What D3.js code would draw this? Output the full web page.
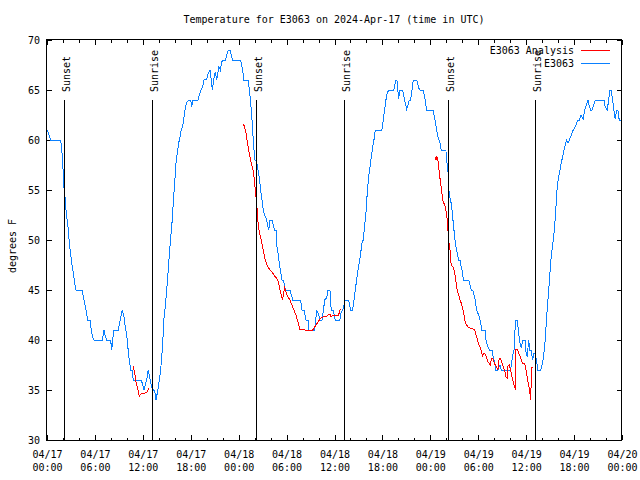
<!DOCTYPE html>
<html>
<head>
<meta charset="utf-8">
<script src="https://cdn.jsdelivr.net/npm/d3@7"></script>
<style>
  body { margin: 0; background: #fff; }
  svg { display: block; font-family: "DejaVu Sans Mono", monospace; font-size: 10px; }
  svg * { shape-rendering: crispEdges; }
</style>
</head>
<body>
<svg id="chart" width="640" height="480"></svg>
<script>
// Chart data (hours since 2024-04-17 00:00 UTC, degrees F)
const startDate = Date.UTC(2024, 3, 17);
const endDate = Date.UTC(2024, 3, 20);
const yTicks = [30, 35, 40, 45, 50, 55, 60, 65, 70];

const sunEvents = [
  ["Sunset", 2.18], ["Sunrise", 13.18], ["Sunset", 26.2],
  ["Sunrise", 37.15], ["Sunset", 50.23], ["Sunrise", 61.13]
];

// E3063 observations
const obsSeries = [
  [0.04,61],[0.29,60.4],[0.46,60],[1.72,60],[1.88,58.7],[2.0,57.3],[2.04,55.8],[2.22,54.7],
  [2.38,53],[2.67,51],[2.79,49.7],[2.97,48.5],[3.13,47.5],[3.29,46.7],[3.47,45.7],[3.63,45],
  [4.42,45],[4.54,44.3],[4.72,43.7],[4.88,43],[5.1,42],[5.38,42],[5.55,41],[5.72,40.3],
  [5.88,40],[6.92,40],[7.14,41],[7.3,40.4],[7.47,40],[7.93,40],[8.05,39.5],[8.1,39],
  [8.23,40],[8.35,41],[8.93,41],[9.05,41.5],[9.23,42.3],[9.43,43],[9.64,42.3],[9.8,41.3],
  [9.98,40.5],[10.1,39.5],[10.23,38.5],[10.35,37.7],[10.48,37],[10.68,37],[10.8,36],
  [11.81,36],[11.98,35.5],[12.14,35],[12.31,35.5],[12.48,36],[12.68,37],[12.81,36.5],
  [12.93,36],[13.11,35.3],[13.31,35],[13.48,35],[13.65,34],[13.81,34.7],[13.98,35.5],
  [14.15,36.5],[14.31,37.7],[14.49,39.7],[14.65,42.2],[14.81,43.3],[14.99,45],[15.15,46.7],
  [15.31,48.5],[15.49,50.3],[15.65,51.7],[15.81,53.7],[15.99,55.7],[16.15,57.7],[16.31,58.7],
  [16.49,59.7],[16.65,60.3],[16.81,61],[16.99,61.3],[17.15,62.3],[17.31,63.2],[17.53,63.8],
  [17.74,64],[17.99,64],[18.12,63.3],[18.24,64],[18.91,64],[19.07,64.5],[19.28,65],
  [19.49,65.3],[19.69,66.1],[19.99,66],[20.19,66.7],[20.41,67],[20.57,66],[20.7,65],
  [20.87,66],[21.07,66.8],[21.25,66],[21.53,67.3],[21.7,67],[21.87,67.8],[22.04,68],
  [22.37,68],[22.57,68.7],[22.75,69],[22.91,69],[23.07,68.5],[23.25,68],[24.16,68],
  [24.33,67.7],[24.5,67],[24.66,66],[25.2,66],[25.33,65],[25.5,63.8],[25.67,62],[25.83,60],
  [26.01,58],[26.26,57.8],[26.42,57],[26.58,56.3],[26.75,55],[26.92,54],[27.08,53],
  [27.26,52.5],[27.51,52],[27.76,51],[27.92,52],[28.17,52],[28.33,51.5],[28.51,51],
  [28.76,51],[28.77,49.5],[28.92,48.7],[29.08,47.7],[29.26,46.8],[29.42,46],[29.58,46],
  [29.76,45.5],[29.84,45],[30.42,45],[30.67,44.3],[30.76,44],[31.76,44],[31.93,43],
  [32.18,43],[32.43,42],[32.68,42],[32.76,41],[33.52,41],[33.68,42.3],[33.77,43],
  [34.02,42.5],[34.18,42],[34.43,42],[34.59,42.8],[34.77,44],[35.02,44.2],[35.18,45],
  [35.43,45],[35.59,43],[35.84,43],[36.09,42],[36.68,42],[36.81,42.7],[37.02,43],
  [37.35,44],[37.77,44],[38.02,43],[38.27,43],[38.44,44],[38.6,45],[38.77,46],[38.94,47],
  [39.1,47.7],[39.28,48.7],[39.44,49.7],[39.6,50],[39.72,51],[39.94,52.7],[40.1,54.7],
  [40.28,56.3],[40.44,57.3],[40.6,58.3],[40.78,59.3],[40.94,60],[41.1,61],[41.94,61],
  [42.1,62],[42.28,63],[42.44,64],[42.61,64.7],[42.78,65],[43.44,65],[43.66,66],[43.82,66],
  [44.03,64.1],[44.2,65],[44.53,65],[44.7,64.3],[45.03,63.1],[45.2,63.5],[45.36,64],
  [45.54,64],[45.7,65],[45.86,66],[46.29,66],[46.54,65.2],[46.7,65],[47.11,65],[47.36,64],
  [47.54,63],[48.36,63],[48.58,62],[48.79,61],[48.99,60.2],[49.2,59.7],[49.37,59],
  [49.95,59],[50.04,58],[50.2,57],[50.29,55.7],[50.37,54.5],[50.55,54],[50.71,53],
  [50.87,51.7],[51.05,50.3],[51.21,49.3],[51.37,48.7],[51.55,48],[51.71,48],[51.87,47.3],
  [52.05,46.7],[52.12,46],[52.8,46],[52.96,45.5],[53.12,45],[53.3,45],[53.46,44.5],
  [53.62,44],[53.8,43],[54.05,42.5],[54.22,42],[54.46,41],[54.88,41],[54.96,40],
  [55.13,39.5],[55.38,39],[55.71,39],[55.96,38],[56.13,37.5],[56.21,37],[56.47,37],
  [56.72,37.5],[56.88,37],[58.06,37],[58.22,38],[58.38,38.7],[58.56,39.3],[58.63,42],
  [58.88,42],[59.06,40.7],[59.22,39.7],[59.38,39.2],[59.56,40],[59.88,40],[59.97,38.8],
  [60.13,38.3],[60.31,40],[60.47,39],[60.63,39],[60.81,38],[60.97,38.7],[61.14,38.7],
  [61.31,37.8],[61.47,37],[61.81,37],[62.06,37.7],[62.22,38.7],[62.39,40],[62.56,42.3],
  [62.73,44],[62.89,45.7],[63.06,47.7],[63.23,49],[63.39,50],[63.56,51.3],[63.73,53.3],
  [63.89,55.3],[64.06,56.3],[64.23,57],[64.39,57.7],[64.56,58.3],[64.73,59],[64.89,59.5],
  [65.07,60],[65.23,59.7],[65.57,60.3],[65.89,61],[66.14,61.3],[66.48,62],[66.64,62],
  [66.89,62.5],[67.14,62.1],[67.32,63],[67.73,64],[67.9,63.4],[68.07,63],[68.23,63],
  [68.65,64],[69.74,64],[69.9,63.3],[70.15,63],[70.33,64],[70.49,65],[70.65,65],
  [70.82,64],[70.98,63],[71.15,62.1],[71.32,63],[71.49,63],[71.65,62],[71.9,62]
];

// E3063 Analysis, three separate runs
const analysisRun1 = [
  [10.8,37.4],[10.98,36.7],[11.14,35.8],[11.31,35.3],[11.48,34.7],[11.56,34.3],[11.64,34.5],
  [11.89,34.7],[12.23,34.7],[12.56,34.8],[12.73,35.2]
];
const analysisRun2 = [
  [24.58,61.6],[24.75,61.3],[24.91,60.7],[25.08,59.8],[25.25,59],[25.42,58.3],[25.58,57.7],
  [25.75,57.2],[25.92,56.3],[26.08,55],[26.25,53.7],[26.42,51.8],[26.58,50.8],[26.83,50],
  [27.08,49],[27.33,48],[27.58,47.4],[27.83,47.1],[28.17,46.8],[28.51,46.4],[28.76,46.2],
  [29.01,45.7],[29.17,45],[29.33,44.5],[29.51,44],[29.58,44.5],[29.76,45.2],[29.92,44.8],
  [30.17,44.3],[30.42,44],[30.67,43.5],[30.92,43],[31.17,42.5],[31.43,41.8],[31.68,41],
  [31.93,41.1],[32.26,41],[32.59,40.9],[32.93,41],[33.27,41],[33.68,41.5],[33.84,41.7],
  [34.02,41.9],[34.27,42.2],[34.59,42.3],[35.02,42.4],[35.43,42.6],[35.59,42.3],[35.84,42.5],
  [36.52,42.5],[36.68,43],[36.85,43.1]
];
const analysisRun3 = [
  [48.62,58.3],[48.7,58],[48.79,58.4],[48.95,58],[49.12,56.7],[49.29,55.7],[49.45,54.7],
  [49.62,53.7],[49.79,53.6],[49.95,53],[50.12,52],[50.29,50],[50.46,49],[50.55,48],
  [50.62,47.5],[50.87,47.3],[51.05,46.7],[51.21,45.8],[51.37,45],[51.55,44.5],[51.71,44],
  [51.87,43.7],[52.05,43.2],[52.21,42.5],[52.37,41.8],[52.54,41.5],[52.71,41.3],[52.96,41.2],
  [53.37,41.1],[53.55,41],[53.71,40.5],[53.88,40.1],[54.05,39.6],[54.22,39.3],[54.38,38.9],
  [54.55,38.4],[54.71,38.7],[54.88,38.6],[55.05,38.2],[55.21,37.8],[55.38,37.7],[55.55,37.4],
  [55.63,38.2],[55.8,38.2],[55.96,37.8],[56.13,37.5],[56.3,37.3],[56.46,37],[56.63,38.2],
  [56.8,38.1],[56.97,37.7],[57.13,37.3],[57.3,37],[57.46,36.3],[57.63,36.2],[57.72,37.4],
  [57.88,37.5],[58.06,37],[58.22,36.3],[58.38,35.8],[58.56,35.3],[58.63,35.2],[58.72,39.1],
  [58.88,39.1],[59.06,38.7],[59.22,38.4],[59.38,38],[59.56,37.7],[59.72,37.7],[59.88,37.5],
  [60.06,36.7],[60.22,35.8],[60.39,35.2],[60.56,34],[60.63,35.7],[60.72,37.3],[60.81,37.3]
];

const legendItems = [["E3063 Analysis", "#ff0000"], ["E3063", "#0a80ff"]];

// Layout
const margin = { top: 40, right: 18, bottom: 40, left: 47 };
const width = 640, height = 480;
const svg = d3.select("#chart");

const x = d3.scaleUtc()
  .domain([new Date(startDate), new Date(endDate)])
  .range([margin.left, width - margin.right]);
const y = d3.scaleLinear()
  .domain([30, 70])
  .range([height - margin.bottom, margin.top]);

const toDate = h => new Date(startDate + h * 3600000);
const fmtDay = d3.utcFormat("%m/%d");
const fmtTime = d3.utcFormat("%H:%M");

svg.append("rect").attr("width", width).attr("height", height).attr("fill", "#fff");

// Ticks (inward, mirrored like gnuplot)
const bottomY = height - margin.bottom;
svg.append("g")
  .attr("transform", `translate(0,${bottomY})`)
  .call(d3.axisBottom(x).ticks(d3.utcHour.every(2)).tickSize(-2.5).tickSizeOuter(0).tickFormat(""))
  .call(g => g.select(".domain").remove());
svg.append("g")
  .attr("transform", `translate(0,${margin.top})`)
  .call(d3.axisTop(x).ticks(d3.utcHour.every(2)).tickSize(-2.5).tickSizeOuter(0).tickFormat(""))
  .call(g => g.select(".domain").remove());
svg.append("g")
  .attr("transform", `translate(0,${margin.top})`)
  .call(d3.axisTop(x).ticks(d3.utcHour.every(6)).tickSize(-5).tickSizeOuter(0).tickFormat(""))
  .call(g => g.select(".domain").remove());

const xAxis = svg.append("g")
  .attr("transform", `translate(0,${bottomY})`)
  .call(d3.axisBottom(x).ticks(d3.utcHour.every(6)).tickSize(-5).tickSizeOuter(0))
  .call(g => g.select(".domain").remove());
xAxis.selectAll(".tick text")
  .attr("y", 18).attr("dy", null)
  .style("font-family", "DejaVu Sans Mono").style("font-size", "10px").attr("fill", "#000")
  .each(function (d) {
    const t = d3.select(this).text(null);
    t.append("tspan").attr("x", 0).text(fmtDay(d));
    t.append("tspan").attr("x", 0).attr("dy", 13).text(fmtTime(d));
  });

svg.append("g")
  .attr("transform", `translate(${margin.left},0)`)
  .call(d3.axisLeft(y).tickValues(yTicks).tickSize(-5).tickSizeOuter(0).tickPadding(7))
  .call(g => g.select(".domain").remove())
  .call(g => g.selectAll("text").style("font-family", "DejaVu Sans Mono").style("font-size", "10px").attr("fill", "#000"));
svg.append("g")
  .attr("transform", `translate(${width - margin.right},0)`)
  .call(d3.axisRight(y).tickValues(yTicks).tickSize(-5).tickSizeOuter(0).tickFormat(""))
  .call(g => g.select(".domain").remove());

// Data lines
const line = d3.line().x(d => x(toDate(d[0]))).y(d => y(d[1]));

svg.append("path")
  .datum(obsSeries)
  .attr("fill", "none")
  .attr("stroke", legendItems[1][1])
  .attr("stroke-width", 1)
  .attr("d", line);

[analysisRun1, analysisRun2, analysisRun3].forEach(run => {
  svg.append("path")
    .datum(run)
    .attr("fill", "none")
    .attr("stroke", legendItems[0][1])
    .attr("stroke-width", 1)
    .attr("d", line);
});

// Sunrise / sunset markers
const sun = svg.append("g").selectAll("g")
  .data(sunEvents)
  .enter().append("g")
  .attr("transform", d => `translate(${Math.round(x(toDate(d[1]))) + 0.5},0)`);
sun.append("line")
  .attr("y1", 100).attr("y2", bottomY)
  .attr("stroke", "#000").attr("stroke-width", 1);
sun.append("text")
  .attr("transform", "translate(5,92) rotate(-90)")
  .attr("text-anchor", "start")
  .text(d => d[0]);

// Border
svg.append("rect")
  .attr("x", margin.left - 0.5).attr("y", margin.top - 0.5)
  .attr("width", width - margin.left - margin.right)
  .attr("height", height - margin.top - margin.bottom + 0.5)
  .attr("fill", "none").attr("stroke", "#000");

// Title and y label
svg.append("text")
  .attr("x", 334).attr("y", 23)
  .attr("text-anchor", "middle")
  .text("Temperature for E3063 on 2024-Apr-17 (time in UTC)");
svg.append("text")
  .attr("transform", "translate(16,246) rotate(-90)")
  .attr("text-anchor", "middle")
  .text("degrees F");

// Legend
const legend = svg.append("g").selectAll("g")
  .data(legendItems)
  .enter().append("g")
  .attr("transform", (d, i) => `translate(0,${50 + i * 13})`);
legend.append("text")
  .attr("x", 574).attr("dy", "0.35em")
  .attr("text-anchor", "end")
  .text(d => d[0]);
legend.append("line")
  .attr("x1", 581).attr("x2", 610)
  .attr("stroke", d => d[1]).attr("stroke-width", 1);
</script>
</body>
</html>
